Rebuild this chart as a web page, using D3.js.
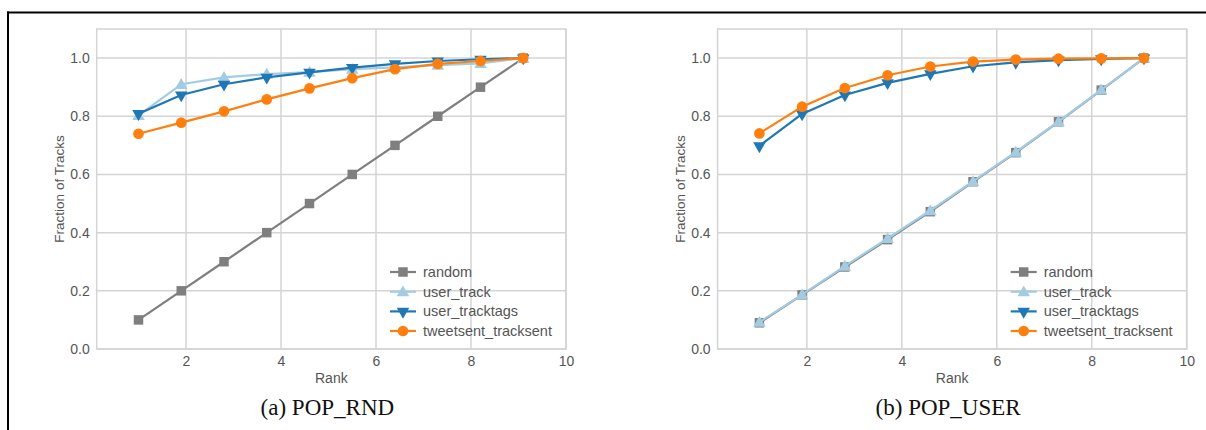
<!DOCTYPE html>
<html>
<head>
<meta charset="utf-8">
<script src="https://cdn.jsdelivr.net/npm/d3@7"></script>
<style>
  html, body { margin: 0; padding: 0; background: #fff; }
  svg { display: block; }
</style>
</head>
<body>
<svg id="chart" width="1206" height="430"></svg>
<script>
// ---- data ----
const ranks = [1, 1.9, 2.8, 3.7, 4.6, 5.5, 6.4, 7.3, 8.2, 9.1];
const xTicks = [2, 4, 6, 8, 10];
const yTicks = [0.0, 0.2, 0.4, 0.6, 0.8, 1.0];
const seriesNames = ["random", "user_track", "user_tracktags", "tweetsent_tracksent"];

// (a) POP_RND
const rndRandom    = [0.10, 0.20, 0.30, 0.40, 0.50, 0.60, 0.70, 0.80, 0.90, 1.00];
const rndUserTrack = [0.803, 0.910, 0.934, 0.945, 0.952, 0.962, 0.968, 0.976, 0.982, 1.00];
const rndUserTags  = [0.809, 0.873, 0.910, 0.934, 0.951, 0.967, 0.980, 0.990, 0.996, 1.00];
const rndTweetSent = [0.740, 0.778, 0.817, 0.858, 0.896, 0.931, 0.962, 0.980, 0.990, 1.00];

// (b) POP_USER
const usrRandom    = [0.090, 0.186, 0.282, 0.376, 0.472, 0.575, 0.675, 0.781, 0.890, 1.00];
const usrUserTrack = [0.092, 0.187, 0.285, 0.380, 0.476, 0.576, 0.677, 0.782, 0.891, 1.00];
const usrUserTags  = [0.698, 0.808, 0.873, 0.915, 0.946, 0.972, 0.985, 0.993, 0.997, 1.00];
const usrTweetSent = [0.741, 0.833, 0.897, 0.941, 0.971, 0.988, 0.995, 0.998, 0.999, 1.00];

const captions = ["(a) POP_RND", "(b) POP_USER"];

// ---- styles ----
const colors = ["#7f7f7f", "#a3cce3", "#1f77b4", "#ff7f0e"];
const shapes = ["square", "up", "down", "circle"];
const FONT = "'Liberation Sans', Arial, sans-serif";
const TEXT = "#555";
const GRID = "#d4d4d4";

const svg = d3.select("#chart");

// figure border (top and left)
svg.append("line").attr("x1", 7).attr("x2", 1206).attr("y1", 12.5).attr("y2", 12.5)
  .attr("stroke", "#000").attr("stroke-width", 2);
svg.append("line").attr("x1", 8).attr("x2", 8).attr("y1", 11.5).attr("y2", 430)
  .attr("stroke", "#000").attr("stroke-width", 2);

function markerPath(shape) {
  if (shape === "square") return d3.symbol(d3.symbolSquare, 90)();
  if (shape === "circle") return d3.symbol(d3.symbolCircle, 90)();
  return d3.symbol(d3.symbolTriangle, 68)();
}
function markerTransform(shape, x, y) {
  if (shape === "down") return `translate(${x},${y}) rotate(180)`;
  if (shape === "up") return `translate(${x},${y + 1})`;
  return `translate(${x},${y})`;
}

function drawPanel(left, width, seriesValues, caption) {
  const top = 29, height = 320;
  const x = d3.scaleLinear().domain([0.12, 10]).range([left, left + width]);
  const y = d3.scaleLinear().domain([0, 1.1]).range([top + height, top]);
  const g = svg.append("g");

  // grid
  g.append("g").selectAll("line").data(xTicks).join("line")
    .attr("x1", d => x(d)).attr("x2", d => x(d))
    .attr("y1", top).attr("y2", top + height)
    .attr("stroke", GRID).attr("stroke-width", 1.5);
  g.append("g").selectAll("line").data(yTicks).join("line")
    .attr("x1", left).attr("x2", left + width)
    .attr("y1", d => y(d)).attr("y2", d => y(d))
    .attr("stroke", GRID).attr("stroke-width", 1.5);
  // frame
  g.append("rect").attr("x", left).attr("y", top).attr("width", width).attr("height", height)
    .attr("fill", "none").attr("stroke", GRID).attr("stroke-width", 1.5);

  // axes (labels only, via d3 axes)
  const xAxis = d3.axisBottom(x).tickValues(xTicks).tickFormat(d3.format("d")).tickSize(0).tickPadding(7);
  const xg = g.append("g").attr("transform", `translate(0,${top + height})`).call(xAxis);
  const yAxis = d3.axisLeft(y).tickValues(yTicks).tickFormat(d3.format(".1f")).tickSize(0).tickPadding(7);
  const yg = g.append("g").attr("transform", `translate(${left},0)`).call(yAxis);
  [xg, yg].forEach(a => {
    a.select(".domain").remove();
    a.selectAll("text").attr("fill", TEXT).style("font-family", FONT).style("font-size", "14px");
  });

  // axis titles
  g.append("text").attr("x", left + width / 2).attr("y", 383)
    .attr("text-anchor", "middle").attr("fill", TEXT)
    .style("font-family", FONT).style("font-size", "14px").text("Rank");
  g.append("text")
    .attr("transform", `translate(${left - 33},${top + height / 2}) rotate(-90)`)
    .attr("text-anchor", "middle").attr("fill", TEXT)
    .style("font-family", FONT).style("font-size", "13.5px").text("Fraction of Tracks");

  // series
  const line = d3.line().x((d, i) => x(ranks[i])).y(d => y(d));
  seriesValues.forEach((vals, si) => {
    const sg = g.append("g");
    sg.append("path").attr("d", line(vals)).attr("fill", "none")
      .attr("stroke", colors[si]).attr("stroke-width", 2.2).attr("stroke-linejoin", "round");
    sg.selectAll("path.m").data(vals).join("path").attr("class", "m")
      .attr("d", markerPath(shapes[si]))
      .attr("transform", (d, i) => markerTransform(shapes[si], x(ranks[i]), y(d)))
      .attr("fill", colors[si]);
  });

  // legend
  const right = left + width;
  const rowsY = [272, 291.7, 311.4, 331];
  seriesNames.forEach((name, si) => {
    const ly = rowsY[si];
    g.append("line").attr("x1", right - 176).attr("x2", right - 150)
      .attr("y1", ly).attr("y2", ly)
      .attr("stroke", colors[si]).attr("stroke-width", 2.2);
    g.append("path").attr("d", markerPath(shapes[si]))
      .attr("transform", markerTransform(shapes[si], right - 163, ly))
      .attr("fill", colors[si]);
    g.append("text").attr("x", right - 143).attr("y", ly + 5)
      .attr("fill", TEXT).style("font-family", FONT).style("font-size", "14.5px").text(name);
  });

  // caption
  g.append("text").attr("x", left + width / 2 - 4).attr("y", 415)
    .attr("text-anchor", "middle").attr("fill", "#111")
    .style("font-family", "'Liberation Serif', 'Times New Roman', serif")
    .style("font-size", "23px").text(caption);
}

drawPanel(96.7, 469.3, [rndRandom, rndUserTrack, rndUserTags, rndTweetSent], captions[0]);
drawPanel(717.6, 469.1, [usrRandom, usrUserTrack, usrUserTags, usrTweetSent], captions[1]);
</script>
</body>
</html>
